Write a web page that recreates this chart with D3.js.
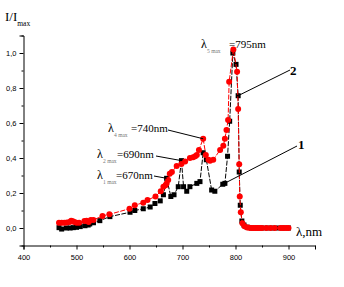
<!DOCTYPE html>
<html><head><meta charset="utf-8">
<script src="https://cdn.jsdelivr.net/npm/d3@7"></script>
<style>body{margin:0;background:#fff}svg{display:block}</style>
</head><body><svg id="c" width="344" height="287"></svg>
<script>
// data
const s1Lambda = [467,472,481,488,494,500,507,516,522,525,532,544,563,601,610,626,639,648,658,664,670,678,684,692,698,702,708,714,727,733,739,745,755,761,776,780,785,789,795,801,805,807,809,812,816,822,830,840,850,860,870,880,890,900];
const s1Value  = [0.002,-0.006,0.0,0.0,0.002,0.004,0.008,0.013,0.017,0.023,0.03,0.042,0.065,0.09,0.10,0.11,0.12,0.14,0.155,0.19,0.284,0.18,0.19,0.236,0.385,0.236,0.21,0.236,0.255,0.265,0.43,0.39,0.217,0.21,0.25,0.255,0.41,0.61,1.0,0.935,0.756,0.32,0.13,0.04,0.017,0.005,0.0,0.0,0.0,0.0,0.0,0.0,0.0,0.0];
const s2Lambda = [467,472,477,482,487,490,493,496,500,505,515,519,523,527,532,549,562,600,610,626,634,649,659,664,668,670,673,676,680,689,698,705,714,720,724,727,731,739,744,749,752,758,771,777,780,783,786,788,796,803,805,807,808,810,813,817,822,826,830,834,838,842,846,850,858,866,874,885,890,895,900];
const s2Value  = [0.03,0.03,0.03,0.032,0.035,0.042,0.038,0.035,0.03,0.03,0.04,0.042,0.035,0.046,0.046,0.069,0.078,0.11,0.13,0.145,0.16,0.18,0.21,0.236,0.245,0.255,0.275,0.31,0.32,0.354,0.366,0.38,0.40,0.405,0.41,0.417,0.446,0.51,0.417,0.39,0.385,0.39,0.446,0.47,0.51,0.56,0.617,0.836,1.02,0.893,0.68,0.364,0.18,0.09,0.027,0.01,0.003,0.002,0.0,0.0,0.0,0.0,0.0,0.0,0.0,0.0,0.0,0.0,0.0,0.0,0.0];
const xTicks = [400,500,600,700,800,900];
const yTicks = [0,0.2,0.4,0.6,0.8,1.0];

const svg = d3.select("#c");
const x = d3.scaleLinear().domain([400,950]).range([23.5,315]);
const y = d3.scaleLinear().domain([-0.1,1.1]).range([245.5,35.5]);
const fmt = d => d3.format(".1f")(d).replace(".",",");

// axes
const xAxis = d3.axisBottom(x).tickValues(xTicks).tickSize(4).tickFormat(d3.format("d"));
const xMinor = d3.axisBottom(x).tickValues(d3.range(450,951,100)).tickSize(2).tickFormat("");
const yAxis = d3.axisLeft(y).tickValues(yTicks).tickSize(4).tickFormat(fmt);
const yMinor = d3.axisLeft(y).tickValues([-0.1,0.1,0.3,0.5,0.7,0.9,1.1]).tickSize(2).tickFormat("");
function style(g){g.select(".domain").attr("stroke","#000");g.selectAll("line").attr("stroke","#000");g.selectAll("text").attr("font-family","Liberation Sans, Arial").attr("font-size",7.5).attr("fill","#000");}
svg.append("g").attr("transform","translate(0,245.5)").call(xAxis).call(style).selectAll("text").attr("dy","0.95em");
svg.append("g").attr("transform","translate(0,245.5)").call(xMinor).call(style).select(".domain").remove();
svg.append("g").attr("transform","translate(23.5,0)").call(yAxis).call(style);
svg.append("g").attr("transform","translate(23.5,0)").call(yMinor).call(style).select(".domain").remove();

const d1 = s1Lambda.map((l,i)=>[l,s1Value[i]]);
const d2 = s2Lambda.map((l,i)=>[l,s2Value[i]]);
const line = d3.line().x(d=>x(d[0])).y(d=>y(d[1]));

svg.append("path").datum(d1).attr("d",line).attr("fill","none").attr("stroke","#000").attr("stroke-width",1).attr("stroke-dasharray","5,1.5");
svg.append("g").selectAll("rect").data(d1).join("rect")
  .attr("x",d=>x(d[0])-2.5).attr("y",d=>y(d[1])-2.5).attr("width",5).attr("height",5).attr("fill","#000");
svg.append("path").datum(d2).attr("d",line).attr("fill","none").attr("stroke","#f00").attr("stroke-width",1).attr("stroke-dasharray","5,1.5");
svg.append("g").selectAll("circle").data(d2).join("circle")
  .attr("cx",d=>x(d[0])).attr("cy",d=>y(d[1])).attr("r",3).attr("fill","#f00");

// axis titles
const serif = "Liberation Serif, Times New Roman, serif";
const t1 = svg.append("text").attr("x",5).attr("y",21).attr("font-family",serif).attr("font-size",13);
t1.append("tspan").text("I/I");
t1.append("tspan").attr("font-size",7.5).attr("dy",5).text("max");
svg.append("text").attr("x",296).attr("y",236).attr("font-family",serif).attr("font-size",13).text("λ,nm");

// annotations
function lam(xp,yp,sub,rest,rx){
  const g = svg.append("g").attr("font-family",serif);
  g.append("text").attr("x",xp).attr("y",yp).attr("font-size",12).text("λ");
  g.append("text").attr("x",xp+6).attr("y",yp+5).attr("font-size",5.5).attr("fill","#777").text(sub);
  g.append("text").attr("x",rx).attr("y",yp).attr("font-size",11).text(rest);
}
lam(201,48,"5 max","=795nm",229);
lam(108,132,"4 max","=740nm",131);
lam(97,158,"2 max","=690nm",117);
lam(97,179,"1 max","=670nm",116);

function leader(x1,y1,l,v){
  svg.append("line").attr("x1",x1).attr("y1",y1).attr("x2",x(l)).attr("y2",y(v)).attr("stroke","#000").attr("stroke-width",1);
}
leader(168,130,739,0.51);
leader(156,156,698,0.385);
leader(154,176,670,0.284);
leader(290,70,805,0.756);
leader(297,146,776,0.25);

svg.append("text").attr("x",290).attr("y",75).attr("font-family",serif).attr("font-weight","bold").attr("font-size",13).text("2");
svg.append("text").attr("x",298).attr("y",149).attr("font-family",serif).attr("font-weight","bold").attr("font-size",13).text("1");
</script></body></html>
